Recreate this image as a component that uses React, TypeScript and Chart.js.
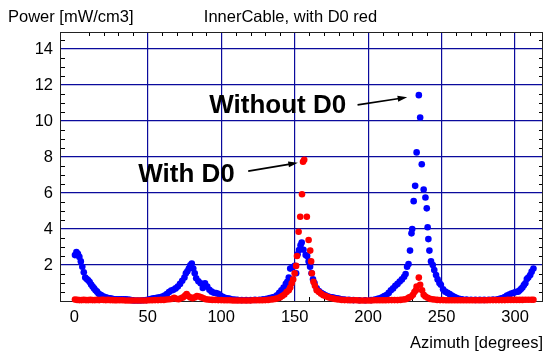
import React, { useEffect, useRef } from 'react';
import { Chart, registerables } from 'chart.js';

Chart.register(...registerables);

// Blue series: without D0
const blueAzimuth = [
  0.5, 1.5, 2.5, 3.5, 4.5, 5.5, 6.5, 7.5, 8.5, 9.5, 10.5, 11.5, 12.5, 13.5, 14.5, 15.5, 16.5, 17.5, 18.5, 20,
  21.5, 23, 24.5, 26, 27.5, 29, 30.5, 32, 33.5, 35, 36.5, 38, 39.5, 41, 43, 45, 47, 49, 51, 52.5,
  54, 55.5, 57, 58.5, 60, 61.5, 63, 64.5, 66, 67.5, 69, 70.5, 72, 73.5, 75, 76, 77, 78, 79, 80,
  81, 82, 83, 84.5, 86, 87.5, 89, 90.5, 92, 93.5, 95, 96.5, 98, 99.5, 101, 102.5, 104, 105.5, 107, 109,
  111, 114, 117, 120, 123, 126, 128.5, 131, 133, 135, 136.5, 138, 139.5, 141, 142.5, 144, 145, 146, 147, 148.5,
  150, 151, 152, 153, 154, 154.8, 156, 157.5, 158.5, 159.5, 160.5, 161.5, 162.5, 163.5, 165, 166.5, 168, 169.5, 171, 172.5,
  174, 175.5, 177, 178.5, 180, 182, 184, 187, 190, 194, 198, 202, 204.5, 206.5, 208, 209.5, 211, 212.5, 214, 215.5,
  217, 218.5, 220, 221.5, 223, 224.5, 225.5, 226.5, 227.5, 228.5, 229.5, 230, 231, 232, 233, 234.5, 235.4, 236.5, 237.8, 239,
  239.9, 240.5, 241, 241.7, 242.8, 244, 245, 246.2, 247.3, 248.5, 249.5, 251, 252.5, 254, 255.5, 257, 258.5, 260, 262, 264,
  267, 270, 273, 276, 279, 282, 285, 288, 290, 291.5, 293, 294.5, 296, 297.5, 299, 300.5, 302, 303, 304, 305,
  306, 307, 308, 309, 310.3, 311.3, 312.5,
];
const bluePower = [
  2.55, 2.72, 2.62, 2.45, 2.2, 1.9, 1.6, 1.3, 1.22, 1.15, 1.05, 0.92, 0.8, 0.7, 0.6, 0.52, 0.42, 0.36, 0.32, 0.25,
  0.2, 0.17, 0.15, 0.12, 0.1, 0.09, 0.1, 0.1, 0.1, 0.09, 0.08, 0.06, 0.04, 0.03, 0.03, 0.03, 0.04, 0.05, 0.09, 0.12,
  0.15, 0.17, 0.19, 0.21, 0.25, 0.3, 0.38, 0.5, 0.58, 0.62, 0.7, 0.8, 0.95, 1.12, 1.3, 1.54, 1.65, 1.8, 1.98, 2.08,
  1.8, 1.54, 1.26, 1.1, 0.98, 0.72, 0.98, 0.8, 0.62, 0.52, 0.46, 0.44, 0.4, 0.3, 0.24, 0.18, 0.15, 0.13, 0.1, 0.08,
  0.06, 0.05, 0.05, 0.05, 0.06, 0.07, 0.09, 0.12, 0.16, 0.2, 0.24, 0.32, 0.45, 0.6, 0.75, 0.95, 1.07, 1.3, 1.8, 1.87,
  1.96, 1.54, 2.6, 2.83, 3.1, 3.25, 2.85, 2.55, 2.5, 2.2, 1.9, 1.54, 1.2, 1.0, 0.7, 0.55, 0.45, 0.38, 0.32, 0.26,
  0.22, 0.2, 0.18, 0.15, 0.13, 0.1, 0.08, 0.06, 0.05, 0.04, 0.04, 0.05, 0.08, 0.12, 0.15, 0.2, 0.28, 0.33, 0.45, 0.6,
  0.7, 0.85, 0.95, 1.08, 1.2, 1.35, 1.5, 1.9, 2.06, 2.8, 3.76, 4.0, 5.55, 6.4, 8.26, 11.44, 10.2, 7.6, 6.2, 5.75,
  5.15, 4.1, 3.44, 2.8, 2.2, 2.0, 1.72, 1.44, 1.2, 1.0, 0.9, 0.65, 0.52, 0.45, 0.38, 0.3, 0.24, 0.18, 0.12, 0.1,
  0.08, 0.07, 0.06, 0.06, 0.06, 0.07, 0.08, 0.1, 0.13, 0.16, 0.22, 0.3, 0.36, 0.42, 0.46, 0.5, 0.52, 0.58, 0.66, 0.75,
  0.88, 0.98, 1.22, 1.3, 1.44, 1.63, 1.8,
];

// Red series: with D0
const redAzimuth = [
  0.5, 2, 3.5, 5, 6.5, 8, 9.5, 11, 12.5, 14, 15.5, 17, 18.5, 20, 21.5, 23, 24.5, 26, 27.5, 29,
  31, 33, 35, 37, 39, 41, 43, 45, 47, 49, 51, 53, 55, 57, 59, 61, 63, 65, 66.5, 68,
  69.5, 71, 72.5, 74, 75.5, 76.5, 77.5, 79, 80.5, 82, 83.5, 85, 86.5, 88, 89.5, 91, 92.5, 94, 96, 98,
  100, 102, 104, 106, 108, 110, 112, 114, 116, 118, 120, 122, 124, 126, 128, 130, 132, 134, 135.5, 137,
  138.5, 140, 141.5, 143, 144.5, 146, 147, 148, 149, 150, 151, 151.6, 152.7, 153.8, 155, 155.7, 156.5, 158.3, 159.5, 160.6,
  161.2, 161.7, 162.8, 163.8, 165, 166.5, 168, 169.5, 171, 172.5, 174, 175.5, 177, 178.5, 180, 182, 184, 186, 188, 190,
  192, 194, 196, 198, 200, 202, 204, 206, 208, 210, 212, 214, 216, 218, 220, 222, 224, 225.5, 227, 228,
  229.3, 230.5, 231.5, 232.5, 233, 234.5, 235.4, 236.7, 237.8, 239, 240.5, 242, 243.5, 245, 247, 249, 251, 253, 255, 257,
  259, 261, 263, 265, 267, 269, 271, 273, 275, 277, 279, 281, 283, 285, 287, 289, 291, 293, 295, 297,
  299, 301, 303, 305, 307, 309, 311, 312.5,
];
const redPower = [
  0.08, 0.06, 0.05, 0.05, 0.06, 0.05, 0.05, 0.06, 0.05, 0.05, 0.06, 0.05, 0.07, 0.06, 0.05, 0.06, 0.05, 0.05, 0.04, 0.04,
  0.04, 0.04, 0.03, 0.03, 0.03, 0.03, 0.03, 0.03, 0.03, 0.03, 0.04, 0.04, 0.05, 0.05, 0.06, 0.06, 0.08, 0.1, 0.12, 0.18,
  0.12, 0.1, 0.15, 0.2, 0.3, 0.38, 0.28, 0.2, 0.15, 0.2, 0.28, 0.25, 0.2, 0.15, 0.1, 0.08, 0.07, 0.06, 0.06, 0.05,
  0.05, 0.04, 0.04, 0.04, 0.03, 0.03, 0.03, 0.03, 0.03, 0.03, 0.03, 0.04, 0.04, 0.04, 0.04, 0.05, 0.06, 0.08, 0.1, 0.12,
  0.15, 0.2, 0.28, 0.36, 0.5, 0.6, 0.75, 0.98, 1.2, 1.54, 1.95, 2.5, 3.85, 4.68, 5.93, 7.74, 7.85, 4.68, 3.39, 2.8,
  2.2, 1.54, 1.07, 0.85, 0.6, 0.5, 0.4, 0.32, 0.28, 0.22, 0.18, 0.15, 0.12, 0.1, 0.08, 0.06, 0.05, 0.05, 0.04, 0.04,
  0.04, 0.03, 0.03, 0.03, 0.03, 0.03, 0.04, 0.04, 0.04, 0.04, 0.04, 0.05, 0.05, 0.05, 0.05, 0.06, 0.08, 0.1, 0.15, 0.2,
  0.25, 0.35, 0.5, 0.6, 0.8, 1.3, 0.9, 0.6, 0.35, 0.25, 0.18, 0.12, 0.1, 0.08, 0.06, 0.05, 0.05, 0.04, 0.04, 0.04,
  0.04, 0.04, 0.04, 0.04, 0.04, 0.04, 0.04, 0.04, 0.04, 0.04, 0.04, 0.04, 0.05, 0.05, 0.05, 0.05, 0.05, 0.05, 0.06, 0.06,
  0.06, 0.06, 0.06, 0.06, 0.07, 0.07, 0.07, 0.07,
];

const xTickValues = [0, 50, 100, 150, 200, 250, 300];
const yTickValues = [2, 4, 6, 8, 10, 12, 14];

const yAxisTitle = 'Power [mW/cm3]';
const chartTitle = 'InnerCable, with D0 red';
const xAxisTitle = 'Azimuth [degrees]';

// Annotations
const annotationLabels = ['Without D0', 'With D0'];

const FONT = "'Liberation Sans', Arial, Helvetica, sans-serif";

const annotationLayout = [
  { text: [138.5, 10.83], from: [192.8, 10.9], to: [226.6, 11.32] },
  { text: [76.4, 7.0], from: [118.4, 7.22], to: [152.2, 7.68] },
];

const decorPlugin = {
  id: 'decor',
  beforeDatasetsDraw(chart: any) {
    const { ctx, chartArea, scales } = chart;
    const { left, right, top, bottom } = chartArea;
    const x = scales.x;
    const y = scales.y;
    ctx.save();
    ctx.strokeStyle = '#000';
    ctx.lineWidth = 1;
    ctx.beginPath();
    for (let v = 0.5; v < 15; v += 0.5) {
      if (v % 2 === 0) continue;
      const py = Math.round(y.getPixelForValue(v)) + 0.5;
      ctx.moveTo(left, py);
      ctx.lineTo(left + 4, py);
      ctx.moveTo(right, py);
      ctx.lineTo(right - 4, py);
    }
    for (let v = 0; v <= 310; v += 10) {
      if (v % 50 === 0) continue;
      const px = Math.round(x.getPixelForValue(v)) + 0.5;
      ctx.moveTo(px, top);
      ctx.lineTo(px, top + 4);
      ctx.moveTo(px, bottom);
      ctx.lineTo(px, bottom - 4);
    }
    ctx.stroke();
    ctx.strokeStyle = '#222';
    ctx.strokeRect(Math.round(left) - 0.5, Math.round(top) + 0.5, Math.round(right - left), Math.round(bottom - top));
    ctx.restore();
  },
  afterDraw(chart: any) {
    const { ctx, chartArea, scales } = chart;
    const x = scales.x;
    const y = scales.y;
    ctx.save();
    ctx.fillStyle = '#000';
    ctx.font = `16.5px ${FONT}`;
    ctx.textBaseline = 'alphabetic';
    ctx.textAlign = 'left';
    ctx.fillText(yAxisTitle, 8, 21.5);
    ctx.textAlign = 'center';
    ctx.fillText(chartTitle, 290.5, 21.5);
    ctx.textAlign = 'right';
    ctx.fillText(xAxisTitle, chartArea.right, 348);

    annotationLabels.forEach((label, i) => {
      const a = annotationLayout[i];
      ctx.font = `bold 26px ${FONT}`;
      ctx.textAlign = 'center';
      ctx.textBaseline = 'middle';
      ctx.fillStyle = '#000';
      ctx.fillText(label, x.getPixelForValue(a.text[0]), y.getPixelForValue(a.text[1]));
      const x1 = x.getPixelForValue(a.from[0]);
      const y1 = y.getPixelForValue(a.from[1]);
      const x2 = x.getPixelForValue(a.to[0]);
      const y2 = y.getPixelForValue(a.to[1]);
      const ang = Math.atan2(y2 - y1, x2 - x1);
      const head = 10;
      ctx.strokeStyle = '#000';
      ctx.lineWidth = 1.6;
      ctx.beginPath();
      ctx.moveTo(x1, y1);
      ctx.lineTo(x2 - Math.cos(ang) * head * 0.8, y2 - Math.sin(ang) * head * 0.8);
      ctx.stroke();
      ctx.beginPath();
      ctx.moveTo(x2, y2);
      ctx.lineTo(x2 - head * Math.cos(ang - 0.3), y2 - head * Math.sin(ang - 0.3));
      ctx.lineTo(x2 - head * Math.cos(ang + 0.3), y2 - head * Math.sin(ang + 0.3));
      ctx.closePath();
      ctx.fill();
    });
    ctx.restore();
  },
};

export default function App() {
  const ref = useRef<HTMLCanvasElement>(null);
  useEffect(() => {
    document.body.style.margin = '0';
    const canvas = ref.current;
    if (!canvas) return;
    const tickFont = { family: FONT, size: 16.5 };
    const gridColor = '#0a0a9c';
    const chart = new Chart(canvas, {
      type: 'scatter',
      data: {
        datasets: [
          {
            label: 'With D0',
            data: redAzimuth.map((az, i) => ({ x: az, y: redPower[i] })),
            backgroundColor: '#ff0000',
            borderColor: '#ff0000',
            pointRadius: 3.3,
            pointBorderWidth: 0,
            clip: false as any,
          },
          {
            label: 'Without D0',
            data: blueAzimuth.map((az, i) => ({ x: az, y: bluePower[i] })),
            backgroundColor: '#0000ff',
            borderColor: '#0000ff',
            pointRadius: 3.3,
            pointBorderWidth: 0,
            clip: false as any,
          },
        ],
      },
      options: {
        responsive: false,
        animation: false,
        devicePixelRatio: 1,
        layout: { padding: { top: 32, right: 1, left: 0, bottom: 0 } },
        plugins: { legend: { display: false }, tooltip: { enabled: false }, title: { display: false } },
        scales: {
          x: {
            type: 'linear',
            position: 'bottom',
            min: -9,
            max: 319,
            afterBuildTicks: (s: any) => {
              s.ticks = xTickValues.map((v) => ({ value: v }));
            },
            afterFit: (s: any) => {
              s.height = 52;
            },
            ticks: {
              font: tickFont,
              color: '#000',
              padding: 7,
              maxRotation: 0,
              autoSkip: false,
              callback: (v: any) => String(v),
            },
            grid: {
              color: (c: any) => (c.tick && c.tick.value === 0 ? 'rgba(0,0,0,0)' : gridColor),
              lineWidth: 1.2,
              drawTicks: false,
            },
            border: { display: false },
          },
          y: {
            type: 'linear',
            min: 0,
            max: 14.95,
            afterBuildTicks: (s: any) => {
              s.ticks = yTickValues.map((v) => ({ value: v }));
            },
            afterFit: (s: any) => {
              s.width = 61;
            },
            ticks: {
              font: tickFont,
              color: '#000',
              padding: 8,
              autoSkip: false,
              callback: (v: any) => String(v),
            },
            grid: { color: gridColor, lineWidth: 1.2, drawTicks: false },
            border: { display: false },
          },
        },
      },
      plugins: [decorPlugin],
    });
    return () => chart.destroy();
  }, []);
  return (
    <div style={{ width: 547, height: 353 }}>
      <canvas ref={ref} width={547} height={353} style={{ display: 'block' }} />
    </div>
  );
}
